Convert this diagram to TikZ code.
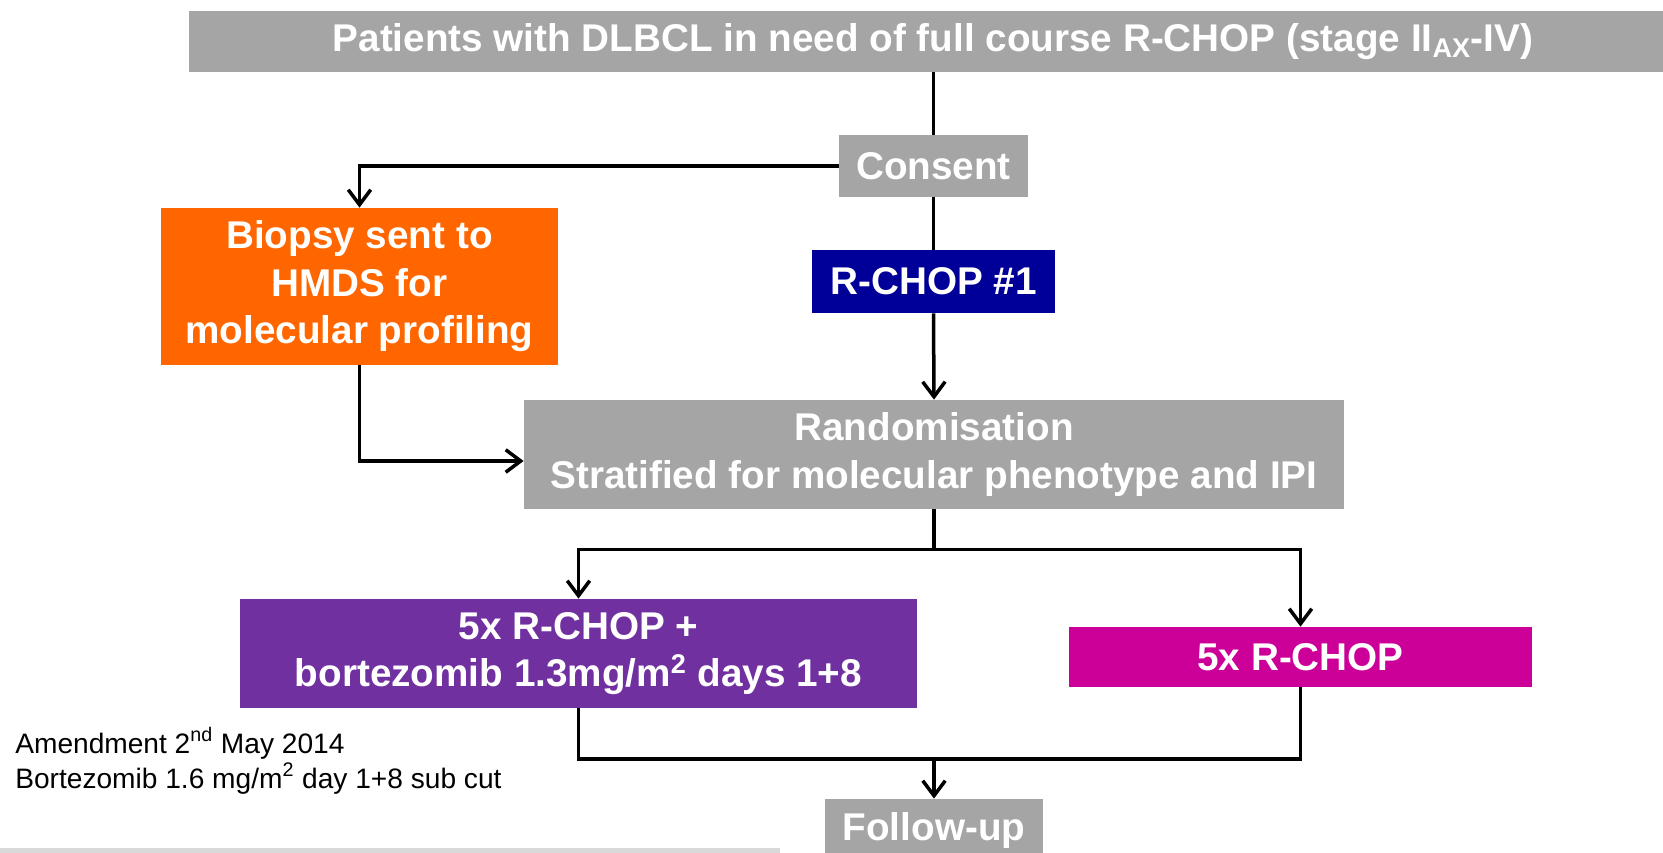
\documentclass[tikz,border=0pt]{standalone}
\usepackage{fontspec}
\setmainfont{Liberation Sans}
\usetikzlibrary{arrows.meta}

\definecolor{boxgray}{HTML}{A5A5A5}
\definecolor{boxorange}{HTML}{FF6600}
\definecolor{boxblue}{HTML}{000099}
\definecolor{boxpurple}{HTML}{7030A0}
\definecolor{boxmagenta}{HTML}{CC0099}
\definecolor{stripgray}{HTML}{D9D9D9}

\begin{document}
\begin{tikzpicture}[x=0.2mm,y=-0.2mm,
  box/.style={fill=#1, text=white, inner sep=0pt, align=center,
    font=\bfseries\fontsize{22}{27}\selectfont},
  line/.style={line width=0.7mm},
  arr/.style={line width=0.7mm, -{Straight Barb[length=3mm,width=4.5mm]}}]
\clip (0,0) rectangle (1663,853);

% Kaesten
\node[box=boxgray, minimum width=297.6mm, minimum height=12.2mm] (patients) at (933,41.5)
  {Patients with DLBCL in need of full course R-CHOP (stage II\textsubscript{AX}-IV)};
\node[box=boxgray, minimum width=37.8mm, minimum height=12.4mm] (consent) at (933.5,166) {Consent};
\node[box=boxorange, minimum width=79.4mm, minimum height=31.4mm] (biopsy) at (359.5,286.5)
  {Biopsy sent to\\HMDS for\\molecular profiling};
\node[box=boxblue, minimum width=48.6mm, minimum height=12.6mm] (rchop) at (933.5,281.5) {R-CHOP \#1};
\node[box=boxgray, minimum width=164mm, minimum height=21.8mm] (random) at (934,454.5)
  {Randomisation\\Stratified for molecular phenotype and IPI};
\node[box=boxpurple, minimum width=135.4mm, minimum height=21.8mm] (armA) at (578.5,653.5)
  {5x R-CHOP +\\bortezomib 1.3mg/m\textsuperscript{2} days 1+8};
\node[box=boxmagenta, minimum width=92.6mm, minimum height=12mm] (armB) at (1300.5,657) {5x R-CHOP};
\node[box=boxgray, minimum width=43.6mm, minimum height=12.4mm] (followup) at (934,830) {Follow-up};

% Verbindungen
\draw[line] (consent.north |- patients.south) -- (consent.north);
\draw[arr] (consent.west) -| (biopsy.north);
\draw[line] (consent.south) -- (rchop.north);
\draw[arr] (rchop.south) -- (random.north);
\draw[arr] (biopsy.south) |- ([yshift=-1.3mm]random.west);
\draw[line] (random.south) -- ++(0,40) coordinate (split);
\draw[arr] (split) -| (armA.north);
\draw[arr] (split) -| (armB.north);
\coordinate (join) at (934,759);
\draw[line] (armA.south) |- (join);
\draw[line] (armB.south) |- (join);
\draw[arr] (join) -- (followup.north);

% Anmerkung
\node[anchor=base west, inner sep=0pt, font=\fontsize{16}{20}\selectfont] (amend) at (15,753)
  {Amendment 2\textsuperscript{nd} May 2014};
\node[anchor=base west, inner sep=0pt, font=\fontsize{16}{20}\selectfont] (bortez) at (15,788)
  {Bortezomib 1.6 mg/m\textsuperscript{2} day 1+8 sub cut};

\fill[stripgray] (0,848) rectangle (780,853);
\end{tikzpicture}
\end{document}
